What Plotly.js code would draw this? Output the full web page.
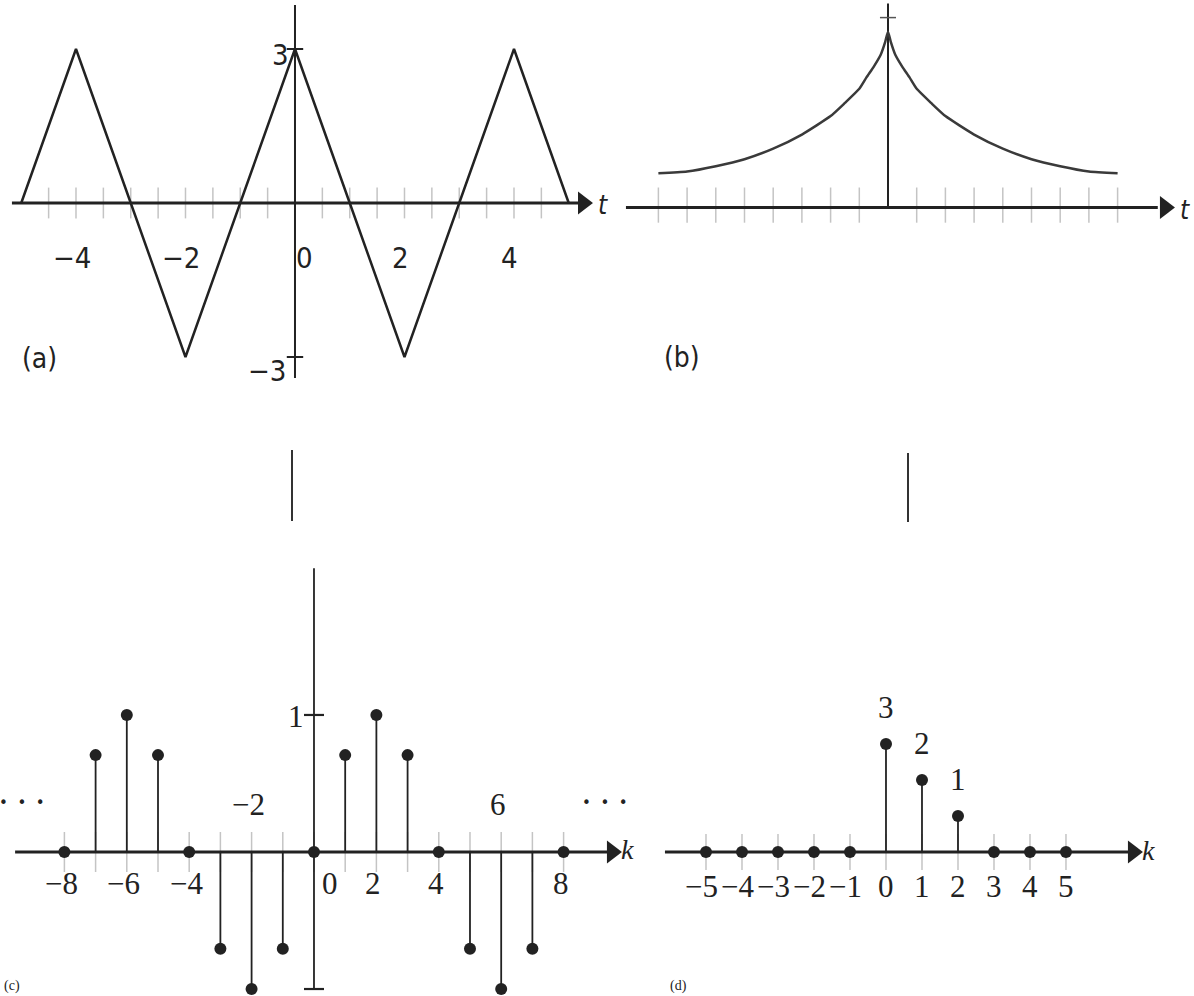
<!DOCTYPE html>
<html><head><meta charset="utf-8">
<script src="https://cdn.plot.ly/plotly-3.0.1.min.js"></script>
<style>html,body{margin:0;padding:0;background:#fff}</style>
</head><body><div id="chart" style="width:1194px;height:996px"></div>
<script>
// ---------- DATA ----------
// (a) triangle wave
const tA = [-5, -4, -3, -2, -1, 0, 1, 2, 3, 4, 5];
const xA = [0, 3, 0, -3, 0, 3, 0, -3, 0, 3, 0];
const gridTicksA = [-4.5, -4, -3.5, -3, -2.5, -2, -1.5, -1, -0.5, 0.5, 1, 1.5, 2, 2.5, 3, 3.5, 4, 4.5];
const tickLabelsA = [-4, -2, 0, 2, 4];
const yTicksA = [3, -3];

// (b) two-sided decaying curve
const tB = [-8, -7, -6, -5, -4, -3, -2, -1.5, -1, -0.75, -0.5, -0.25, -0.1, 0, 0.1, 0.25, 0.5, 0.75, 1, 1.5, 2, 3, 4, 5, 6, 7, 8];
const xB = [0.195, 0.205, 0.235, 0.275, 0.335, 0.415, 0.52, 0.595, 0.675, 0.74, 0.80, 0.87, 0.94, 1.0, 0.94, 0.87, 0.80, 0.74, 0.675, 0.595, 0.52, 0.415, 0.335, 0.275, 0.235, 0.205, 0.195];
const gridTicksB = [-8, -7, -6, -5, -4, -3, -2, -1, 1, 2, 3, 4, 5, 6, 7, 8];
const topTickB = [1.08];

// (c) discrete sequence
const kC = [-8, -7, -6, -5, -4, -3, -2, -1, 0, 1, 2, 3, 4, 5, 6, 7, 8];
const vC = [0, 0.707, 1, 0.707, 0, -0.707, -1, -0.707, 0, 0.707, 1, 0.707, 0, -0.707, -1, -0.707, 0];
const tickLabelsBelowC = [-8, -6, -4, 0, 2, 4, 8];
const tickLabelsAboveC = [-2, 6];
const yTicksC = [1, -1];
const yTickLabelsC = [1];

// (d) discrete sequence 3,2,1
const kD = [-5, -4, -3, -2, -1, 0, 1, 2, 3, 4, 5];
const vD = [0, 0, 0, 0, 0, 3, 2, 1, 0, 0, 0];

// ---------- LAYOUT GEOMETRY ----------
const W = 1194, H = 996;
const px = p => p / W;
const py = p => 1 - p / H;
const INK = '#222';
const GRAY = '#c4c4c4';
const SANS = 'Liberation Sans Narrow, DejaVu Sans Condensed, sans-serif';
const SERIF = 'Liberation Serif, DejaVu Serif, serif';
const minus = v => String(v).replace('-', '\u2212');

function segs(list) { // list of [x0,y0,x1,y1]
  const x = [], y = [];
  list.forEach(s => { x.push(s[0], s[2], null); y.push(s[1], s[3], null); });
  return {x, y};
}
function lineTrace(ax, s, color, width) {
  return {type: 'scatter', mode: 'lines', xaxis: ax.x, yaxis: ax.y, x: s.x, y: s.y,
    line: {color: color, width: width}, hoverinfo: 'skip', cliponaxis: false};
}
const AX = {
  a: {x: 'x', y: 'y'}, b: {x: 'x2', y: 'y2'}, c: {x: 'x3', y: 'y3'}, d: {x: 'x4', y: 'y4'}
};
const traces = [];
const anns = [];
function ann(ax, x, y, text, o) {
  o = o || {};
  anns.push(Object.assign({xref: ax.x, yref: ax.y, x: x, y: y, text: text, showarrow: false,
    font: {family: o.family || SANS, size: o.size || 28, color: INK}}, o.extra || {}));
}
function arrow(ax, x) {
  traces.push({type: 'scatter', mode: 'markers', xaxis: ax.x, yaxis: ax.y, x: [x], y: [0],
    marker: {symbol: 'triangle-right', size: 20, color: INK}, hoverinfo: 'skip', cliponaxis: false});
}

// ----- (a) -----
traces.push(lineTrace(AX.a, segs(gridTicksA.map(t => [t, -0.3, t, 0.3])), GRAY, 1.5));
traces.push(lineTrace(AX.a, segs([[-5.17, 0, 5.2, 0]]), INK, 3));
arrow(AX.a, 5.26);
traces.push(lineTrace(AX.a, segs([[0, 3.86, 0, -3.41]]), INK, 2));
traces.push(lineTrace(AX.a, segs(yTicksA.map(v => [-0.15, v, 0.15, v])), INK, 2));
traces.push({type: 'scatter', mode: 'lines', xaxis: 'x', yaxis: 'y', x: tA, y: xA,
  line: {color: INK, width: 2.5}, hoverinfo: 'skip'});
tickLabelsA.forEach(t => ann(AX.a, t, 0, minus(t), {size: 29, extra: {yshift: -55, xshift: t === 0 ? 10 : -4}}));
ann(AX.a, 0, yTicksA[0], String(yTicksA[0]), {size: 29, extra: {xanchor: 'right', xshift: -4, yshift: -6}});
ann(AX.a, 0, yTicksA[1], minus(yTicksA[1]), {size: 29, extra: {xanchor: 'right', xshift: -7, yshift: -14}});
ann(AX.a, 5.63, 0, '<i>t</i>', {size: 26, extra: {yshift: -2}});

// ----- (b) -----
traces.push(lineTrace(AX.b, segs(gridTicksB.map(t => [t, -0.086, t, 0.114])), GRAY, 1.5));
traces.push(lineTrace(AX.b, segs([[-9.13, 0, 9.4, 0]]), INK, 3));
arrow(AX.b, 9.65);
traces.push(lineTrace(AX.b, segs([[0, 0, 0, 1.16]]), INK, 2));
traces.push(lineTrace(AX.b, segs(topTickB.map(v => [-0.28, v, 0.28, v])), '#555', 1.5));
traces.push({type: 'scatter', mode: 'lines', xaxis: 'x2', yaxis: 'y2', x: tB, y: xB,
  line: {color: '#3a3a3a', width: 2.5, shape: 'spline', smoothing: 0.5}, hoverinfo: 'skip'});
ann(AX.b, 10.35, 0, '<i>t</i>', {size: 26, extra: {yshift: -2}});

// ----- (c) -----
traces.push(lineTrace(AX.c, segs(kC.map(k => [k, -0.146, k, 0.146])), GRAY, 1.5));
traces.push(lineTrace(AX.c, segs([[-9.58, 0, 9.4, 0]]), INK, 3));
arrow(AX.c, 9.55);
traces.push(lineTrace(AX.c, segs([[0, 2.07, 0, -1.007]]), INK, 1.8));
traces.push(lineTrace(AX.c, segs(yTicksC.map(v => [-0.32, v, 0.32, v])), INK, 2.2));
traces.push(lineTrace(AX.c, segs(kC.map((k, i) => [k, 0, k, vC[i]])), INK, 1.8));
traces.push({type: 'scatter', mode: 'markers', xaxis: 'x3', yaxis: 'y3', x: kC, y: vC,
  marker: {symbol: 'circle', size: 12, color: INK}, hoverinfo: 'skip', cliponaxis: false});
tickLabelsBelowC.forEach(k => ann(AX.c, k, 0, minus(k), {family: SERIF, size: 31, extra: {yshift: -32, xshift: k === 0 ? 16 : -3}}));
tickLabelsAboveC.forEach(k => ann(AX.c, k, 0, minus(k), {family: SERIF, size: 31, extra: {yshift: 47, xshift: -3}}));
yTickLabelsC.forEach(v => ann(AX.c, 0, v, String(v), {family: SERIF, size: 31, extra: {xanchor: 'right', xshift: -8, yshift: -2}}));
ann(AX.c, 10.05, 0, '<i>k</i>', {family: SERIF, size: 28, extra: {yshift: 2}});
// continuation dots on both sides of the sequence
const DOTS = '\u2022\u00a0\u00a0\u2022\u00a0\u00a0\u2022';
ann(AX.c, kC[0], 0, DOTS, {family: 'DejaVu Sans', size: 15, extra: {xanchor: 'center', xshift: -42, yshift: 49}});
ann(AX.c, kC[kC.length - 1], 0, DOTS, {family: 'DejaVu Sans', size: 15, extra: {xanchor: 'center', xshift: 41, yshift: 49}});
anns.push({xref: 'paper', yref: 'paper', x: px(2), y: 0, xanchor: 'left', yanchor: 'bottom',
  text: '(c)', showarrow: false, font: {family: SERIF, size: 14, color: INK}});

// ----- (d) -----
traces.push(lineTrace(AX.d, segs(kD.map(k => [k, -0.5, k, 0.5])), GRAY, 1.5));
traces.push(lineTrace(AX.d, segs([[-6.14, 0, 6.8, 0]]), INK, 3));
arrow(AX.d, 6.86);
traces.push(lineTrace(AX.d, segs(kD.map((k, i) => [k, 0, k, vD[i]])), INK, 1.8));
traces.push({type: 'scatter', mode: 'markers', xaxis: 'x4', yaxis: 'y4', x: kD, y: vD,
  marker: {symbol: 'circle', size: 12, color: INK}, hoverinfo: 'skip', cliponaxis: false});
kD.forEach(k => ann(AX.d, k, 0, minus(k), {family: SERIF, size: 31, extra: {yshift: -34, xshift: k < 0 ? -4 : 0}}));
kD.forEach((k, i) => { if (vD[i] !== 0) ann(AX.d, k, vD[i], String(vD[i]), {family: SERIF, size: 31, extra: {yshift: 37}}); });
ann(AX.d, 7.3, 0, '<i>k</i>', {family: SERIF, size: 28, extra: {yshift: 2}});
anns.push({xref: 'paper', yref: 'paper', x: px(668), y: 0, xanchor: 'left', yanchor: 'bottom',
  text: '(d)', showarrow: false, font: {family: SERIF, size: 14, color: INK}});

// panel labels (a), (b)
anns.push({xref: 'paper', yref: 'paper', x: px(20), y: py(358), text: '(a)', showarrow: false,
  font: {family: SANS, size: 28, color: INK}});
anns.push({xref: 'paper', yref: 'paper', x: px(682), y: py(357), text: '(b)', showarrow: false,
  font: {family: SANS, size: 28, color: INK}});

// fragments of lines between rows
const shapes = [
  {type: 'line', xref: 'paper', yref: 'paper', x0: px(292), x1: px(292), y0: py(450), y1: py(521), line: {color: '#333', width: 2}},
  {type: 'line', xref: 'paper', yref: 'paper', x0: px(908), x1: px(908), y0: py(453), y1: py(522), line: {color: '#333', width: 2}}
];

const hid = {visible: false, fixedrange: true};
const layout = {
  width: W, height: H, margin: {l: 0, r: 0, t: 0, b: 0},
  paper_bgcolor: '#fff', plot_bgcolor: 'rgba(0,0,0,0)', showlegend: false,
  xaxis:  Object.assign({domain: [px(0) , px(615)], range: [-5.388, 5.845], anchor: 'y'}, hid),
  yaxis:  Object.assign({domain: [py(400), py(0)], range: [-3.838, 3.955], anchor: 'x'}, hid),
  xaxis2: Object.assign({domain: [px(615), px(1194)], range: [-9.512, 10.662], anchor: 'y2'}, hid),
  yaxis2: Object.assign({domain: [py(400), py(0)], range: [-1.094, 1.180], anchor: 'x2'}, hid),
  xaxis3: Object.assign({domain: [px(0), px(640)], range: [-10.064, 10.449], anchor: 'y3'}, hid),
  yaxis3: Object.assign({domain: [py(996), py(560)], range: [-1.051, 2.131], anchor: 'x3'}, hid),
  xaxis4: Object.assign({domain: [px(640), px(1194)], range: [-6.833, 8.556], anchor: 'y4'}, hid),
  yaxis4: Object.assign({domain: [py(996), py(560)], range: [-4, 8.111], anchor: 'x4'}, hid),
  annotations: anns, shapes: shapes
};
Plotly.newPlot('chart', traces, layout, {staticPlot: true, displayModeBar: false});
</script></body></html>
